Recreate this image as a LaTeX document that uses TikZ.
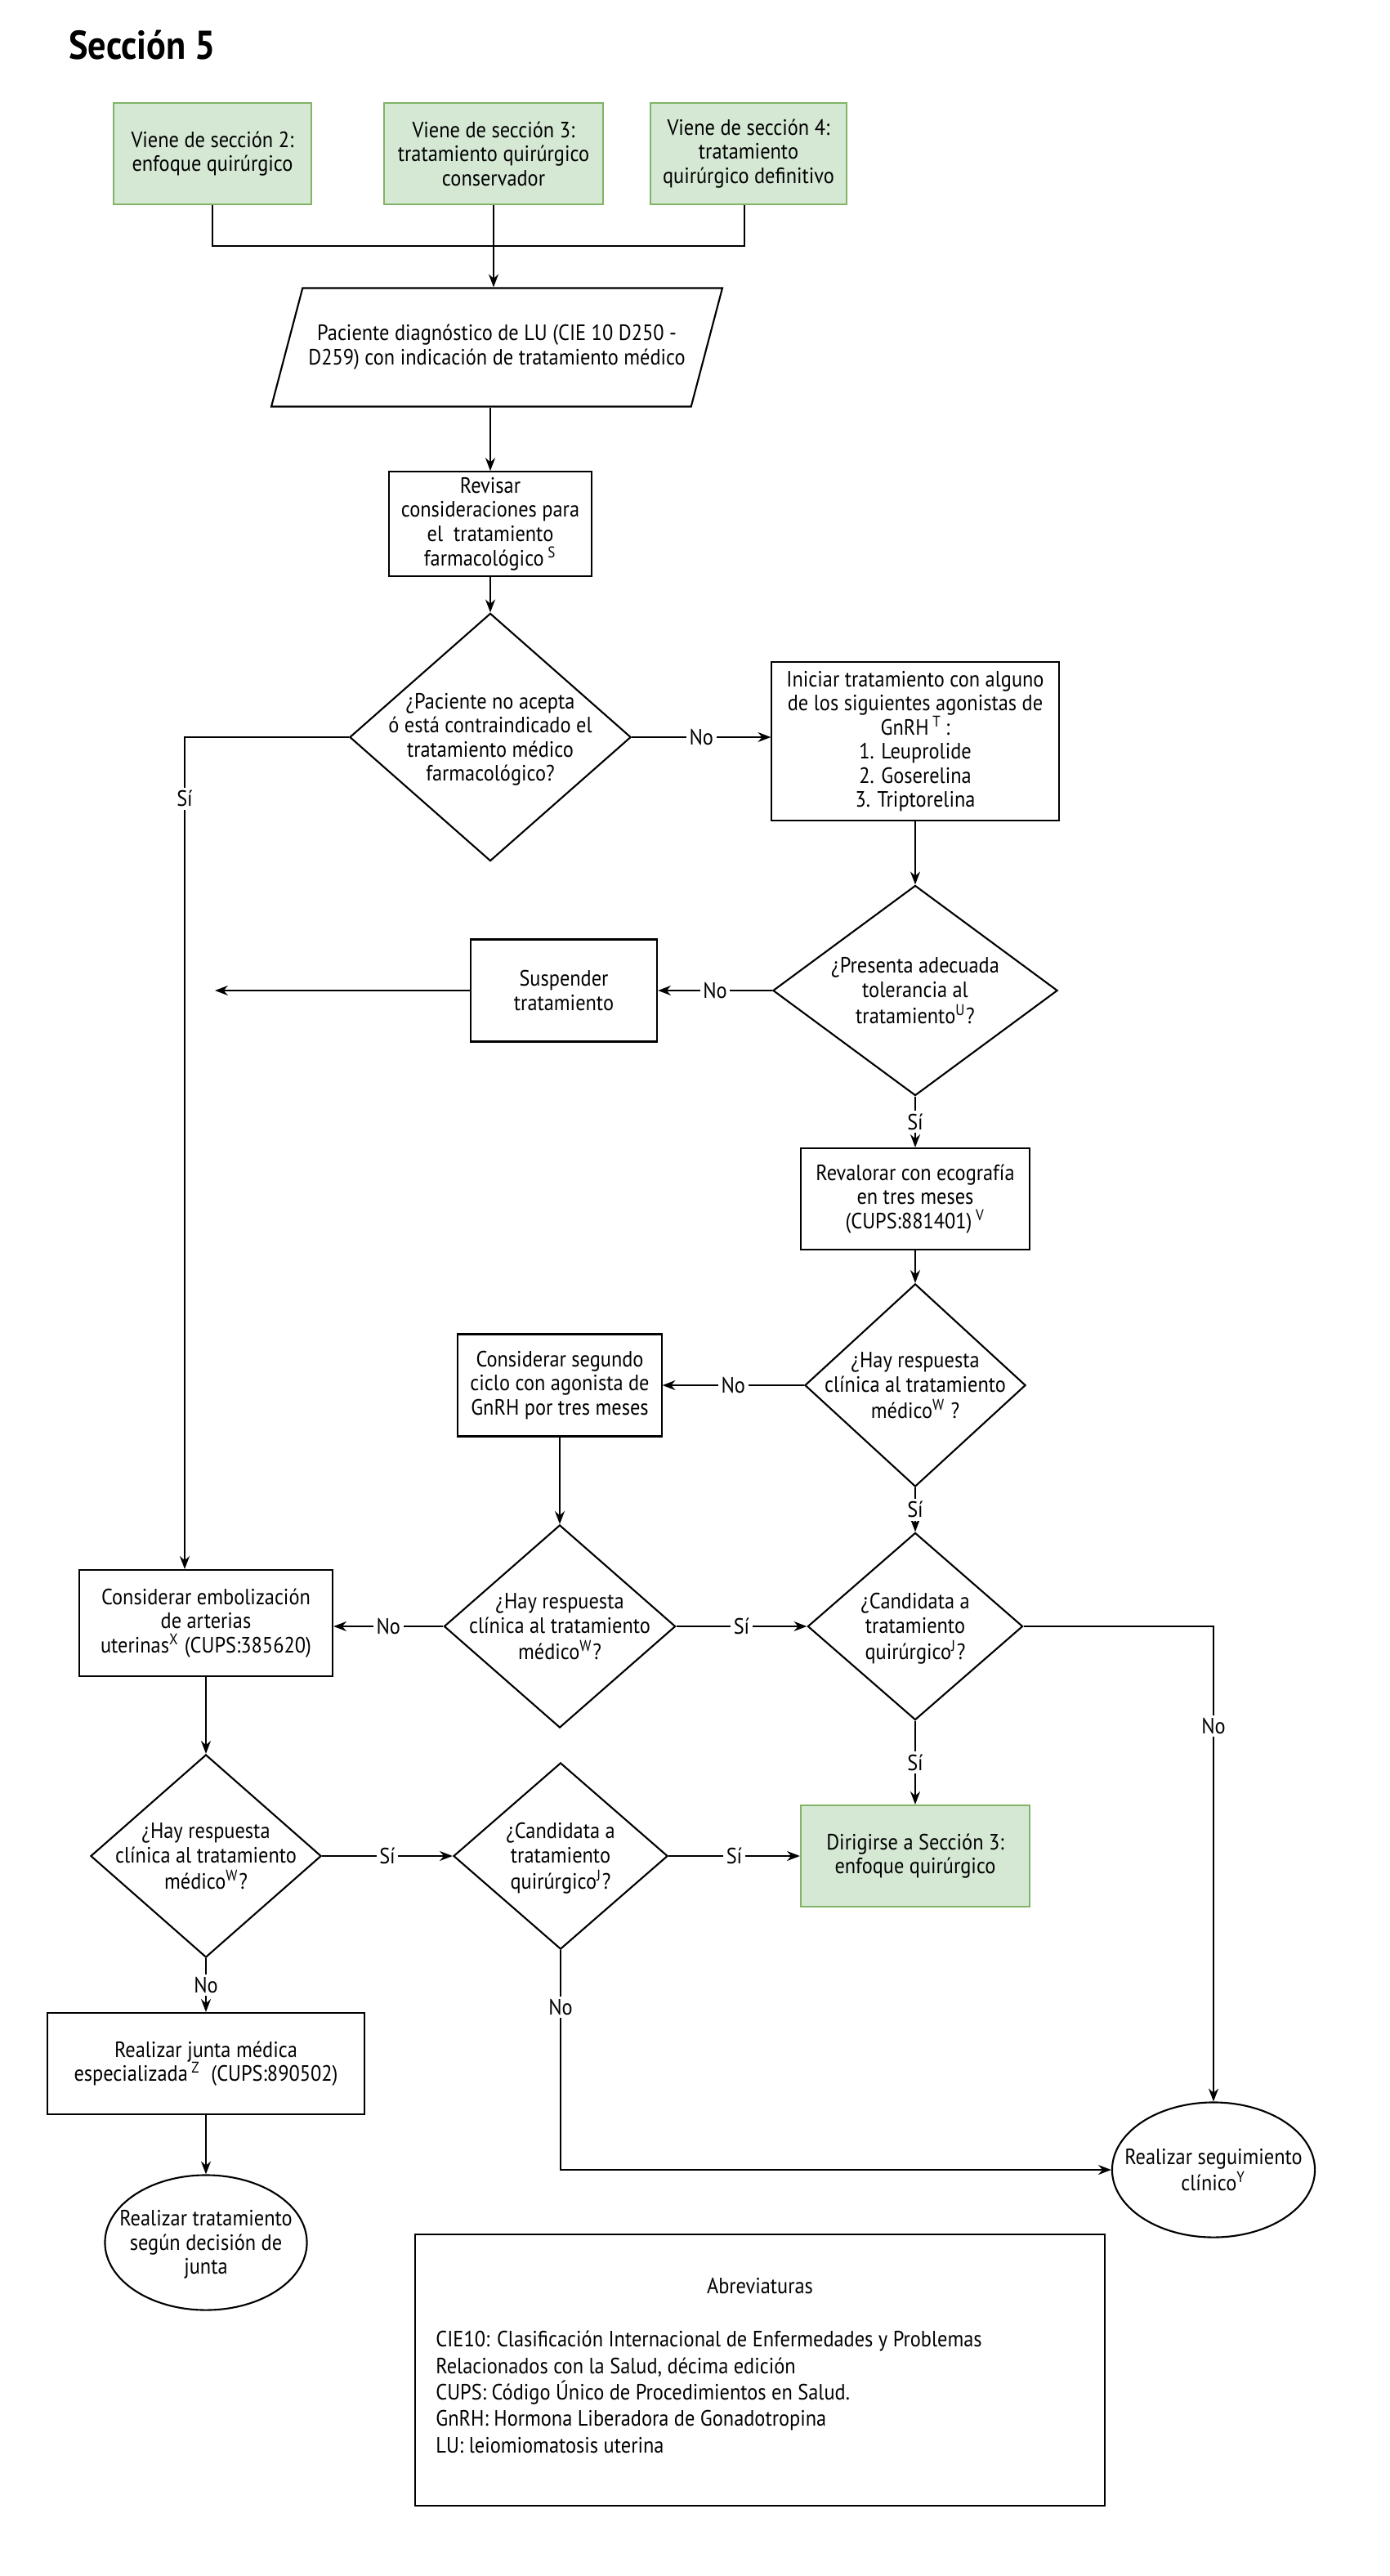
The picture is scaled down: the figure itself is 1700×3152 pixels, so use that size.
\documentclass[tikz,border=0pt]{standalone}
\usepackage{fontspec}
\setmainfont{PT Sans}[FakeStretch=0.9]
\usetikzlibrary{shapes.geometric,arrows.meta}

\definecolor{verdefondo}{HTML}{D5E8D4}
\definecolor{verdeborde}{HTML}{82B366}

% texto centrado que no cuenta para el tamaño de la figura
\newcommand{\dtxt}[1]{\makebox[0pt]{\smash{\raisebox{-3pt}{\begin{tabular}{@{}c@{}}#1\end{tabular}}}}}

\begin{document}
\begin{tikzpicture}[x=0.01cm, y=-0.01cm,
  every node/.style={font=\fontsize{7.7pt}{8.4pt}\selectfont},
  caja/.style={draw, rectangle, align=center, line width=0.6pt, inner sep=2pt},
  cajaverde/.style={caja, fill=verdefondo, draw=verdeborde},
  decision/.style={draw, diamond, line width=0.6pt, inner sep=0pt},
  terminal/.style={draw, ellipse, line width=0.6pt, inner sep=0pt},
  entrada/.style={draw, trapezium, trapezium left angle=61, trapezium right angle=119,
    trapezium stretches body=true, align=center, line width=0.6pt, inner sep=2pt},
  flecha/.style={-{Stealth[length=4.5pt,width=3.4pt]}, line width=0.6pt},
  linea/.style={line width=0.6pt},
  etiqueta/.style={fill=white, inner sep=1pt}]

  \useasboundingbox (0,0) rectangle (1700,3152);

  \node[anchor=base west, font=\fontsize{14pt}{16pt}\selectfont\bfseries] (titulo) at (72,73) {Sección 5};

  % entradas desde otras secciones
  \node[cajaverde, minimum width=2.42cm, minimum height=1.24cm] (v2) at (260,188) {Viene de sección 2:\\enfoque quirúrgico};
  \node[cajaverde, minimum width=2.68cm, minimum height=1.24cm] (v3) at (604,188) {Viene de sección 3:\\tratamiento quirúrgico\\conservador};
  \node[cajaverde, minimum width=2.40cm, minimum height=1.24cm] (v4) at (916,188) {Viene de sección 4:\\tratamiento\\quirúrgico definitivo};
  \coordinate (union) at (604,301);

  \node[entrada, minimum width=5.43cm, minimum height=1.45cm] (paciente) at (608,425)
    {Paciente diagnóstico de LU (CIE 10 D250 -\\D259) con indicación de tratamiento médico};
  \draw[linea] (v2.south) |- (union) -| ([xshift=-0.05cm]v4.south);
  \draw[flecha] (v3.south) -- (v3.south |- paciente.north);

  \node[caja, minimum width=2.48cm, minimum height=1.24cm] (revisar) at (600,641)
    {Revisar\\consideraciones para\\el\ \ tratamiento\\farmacológico\,\textsuperscript{S}};
  \draw[flecha] (revisar |- paciente.south) -- (revisar.north);

  \node[decision, minimum width=3.44cm, minimum height=3.03cm] (d1) at (600,902)
    {\dtxt{¿Paciente no acepta\\ó está contraindicado el\\tratamiento médico\\farmacológico?}};
  \draw[flecha] (revisar.south) -- (d1.north);

  \node[caja, minimum width=3.51cm, minimum height=1.94cm] (iniciar) at (1120,907)
    {Iniciar tratamiento con alguno\\de los siguientes agonistas de\\GnRH\,\textsuperscript{T}\,:\\1. Leuprolide\\2. Goserelina\\3. Triptorelina};
  \draw[flecha] (d1.east) -- node[etiqueta]{No} (d1.east -| iniciar.west);

  % rama del Sí hacia la embolización
  \coordinate (esquina) at (226,902);
  \node[caja, minimum width=3.10cm, minimum height=1.30cm] (embol) at (252,1986)
    {Considerar embolización\\de arterias\\uterinas\textsuperscript{X} (CUPS:385620)};
  \draw[flecha] (d1.west) -- (esquina) -- node[etiqueta, pos=0.074]{Sí} (esquina |- embol.north);

  \node[decision, minimum width=3.48cm, minimum height=2.57cm] (d2) at (1120,1212)
    {\dtxt{¿Presenta adecuada\\tolerancia al\\tratamiento\textsuperscript{U}?}};
  \draw[flecha] (iniciar.south) -- (d2.north);

  \node[caja, minimum width=2.28cm, minimum height=1.25cm] (suspender) at (690,1212) {Suspender\\tratamiento};
  \draw[flecha] (d2.west) -- node[etiqueta]{No} (suspender.east);
  \coordinate (fin) at (263,1212);
  \draw[flecha] (suspender.west) -- (fin);

  \node[caja, minimum width=2.80cm, minimum height=1.24cm] (revalorar) at (1120,1467)
    {Revalorar con ecografía\\en tres meses\\(CUPS:881401)\,\textsuperscript{V}};
  \draw[flecha] (d2.south) -- node[etiqueta]{Sí} (revalorar.north);

  \node[decision, minimum width=2.70cm, minimum height=2.48cm] (d3) at (1120,1695)
    {\dtxt{¿Hay respuesta\\clínica al tratamiento\\médico\textsuperscript{W} ?}};
  \draw[flecha] (revalorar.south) -- (d3.north);

  \node[caja, minimum width=2.49cm, minimum height=1.25cm] (segundo) at (685,1695)
    {Considerar segundo\\ciclo con agonista de\\GnRH por tres meses};
  \draw[flecha] (d3.west) -- node[etiqueta]{No} (segundo.east);

  \node[decision, minimum width=2.83cm, minimum height=2.48cm] (d4) at (685,1990)
    {\dtxt{¿Hay respuesta\\clínica al tratamiento\\médico\textsuperscript{W}?}};
  \draw[flecha] (segundo.south) -- (d4.north);
  \draw[flecha] (d4.west) -- node[etiqueta]{No} (d4.west -| embol.east);

  \node[decision, minimum width=2.63cm, minimum height=2.29cm] (d5) at (1120,1990)
    {\dtxt{¿Candidata a\\tratamiento\\quirúrgico\textsuperscript{J}?}};
  \draw[flecha] (d4.east) -- node[etiqueta]{Sí} (d5.west);
  \draw[flecha] (d3.south) -- node[etiqueta]{Sí} (d5.north);

  \node[terminal, minimum width=2.48cm, minimum height=1.65cm] (seguimiento) at (1485,2655)
    {\dtxt{Realizar seguimiento\\clínico\textsuperscript{Y}}};
  \draw[flecha] (d5.east) -| node[etiqueta, pos=0.605]{No} (seguimiento.north);

  \node[cajaverde, minimum width=2.80cm, minimum height=1.24cm] (dirigirse) at (1120,2271)
    {Dirigirse a Sección 3:\\enfoque quirúrgico};
  \draw[flecha] (d5.south) -- node[etiqueta]{Sí} (dirigirse.north);

  \node[decision, minimum width=2.82cm, minimum height=2.48cm] (d6) at (252,2271)
    {\dtxt{¿Hay respuesta\\clínica al tratamiento\\médico\textsuperscript{W}?}};
  \draw[flecha] (embol.south) -- (d6.north);

  \node[decision, minimum width=2.62cm, minimum height=2.28cm] (d7) at (686,2271)
    {\dtxt{¿Candidata a\\tratamiento\\quirúrgico\textsuperscript{J}?}};
  \draw[flecha] (d6.east) -- node[etiqueta]{Sí} (d7.west);
  \draw[flecha] (d7.east) -- node[etiqueta]{Sí} (dirigirse.west);

  \node[caja, minimum width=3.88cm, minimum height=1.24cm] (junta) at (252,2525)
    {Realizar junta médica\\especializada\,\textsuperscript{Z}\ \ (CUPS:890502)};
  \draw[flecha] (d6.south) -- node[etiqueta]{No} (junta.north);

  \node[terminal, minimum width=2.47cm, minimum height=1.65cm] (decisionjunta) at (252,2744)
    {\dtxt{Realizar tratamiento\\según decisión de\\junta}};
  \draw[flecha] (junta.south) -- (decisionjunta.north);

  \draw[flecha] (d7.south) |- node[etiqueta, pos=0.13]{No} (seguimiento.west);

  % cuadro de abreviaturas
  \node[draw, line width=0.6pt, minimum width=8.43cm, minimum height=3.31cm] (abrev) at (930,2900) {};
  \node (abrevtitulo) at (930,2797) {Abreviaturas};
  \node[anchor=west, align=left, font=\fontsize{7.7pt}{9.2pt}\selectfont] (abrevlista) at (521,2927)
    {CIE10: Clasificación Internacional de Enfermedades y Problemas\\
     Relacionados con la Salud, décima edición\\
     CUPS: Código Único de Procedimientos en Salud.\\
     GnRH: Hormona Liberadora de Gonadotropina\\
     LU: leiomiomatosis uterina};
\end{tikzpicture}
\end{document}
